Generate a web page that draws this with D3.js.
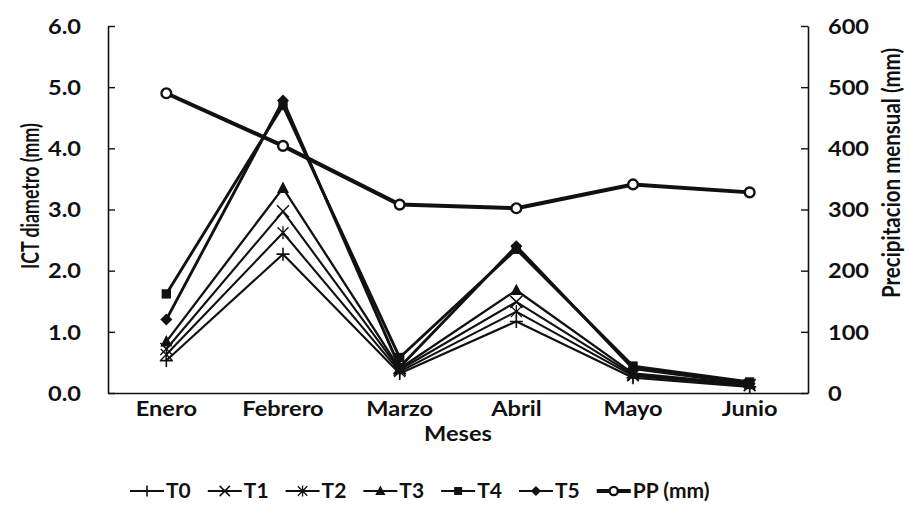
<!DOCTYPE html>
<html>
<head>
<meta charset="utf-8">
<script src="https://cdn.jsdelivr.net/npm/d3@7"></script>
<style>
  html, body { margin: 0; padding: 0; background: #fff; }
  svg text { font-family: Lato, "Open Sans", sans-serif; font-weight: 700; fill: #111; }
</style>
</head>
<body>
<svg id="chart" width="910" height="512"></svg>
<script>
// Months on the x axis
const months = ["Enero", "Febrero", "Marzo", "Abril", "Mayo", "Junio"];

// ICT diameter (mm) per treatment
const t0 = [0.53, 2.27, 0.32, 1.17, 0.25, 0.10];
const t1 = [0.72, 2.97, 0.38, 1.49, 0.30, 0.13];
const t2 = [0.63, 2.62, 0.35, 1.33, 0.28, 0.12];
const t3 = [0.84, 3.35, 0.40, 1.68, 0.32, 0.14];
const t4 = [1.62, 4.70, 0.58, 2.35, 0.44, 0.18];
const t5 = [1.20, 4.78, 0.42, 2.40, 0.40, 0.15];

// Monthly precipitation (mm), secondary axis
const pp = [490, 404, 308, 302, 341, 328];

// Axis ticks
const leftTicks = [0, 1, 2, 3, 4, 5, 6];
const rightTicks = [0, 100, 200, 300, 400, 500, 600];

const svg = d3.select("#chart");
const plot = { left: 108, right: 808, top: 26, bottom: 393 };
const ink = "#111";

const x = d3.scaleBand().domain(months).range([plot.left, plot.right]).padding(0);
const cx = d => x(d) + x.bandwidth() / 2;
const yL = d3.scaleLinear().domain([0, 6]).range([plot.bottom, plot.top]);
const yR = d3.scaleLinear().domain([0, 600]).range([plot.bottom, plot.top]);

const sx = 1.18; // horizontal text widening

// Left axis (ticks inside the plot)
const gL = svg.append("g").attr("transform", `translate(${plot.left},0)`)
  .call(d3.axisLeft(yL).tickValues(leftTicks).tickFormat(d3.format(".1f")).tickSizeInner(-7).tickSizeOuter(0).tickPadding(0));
gL.select(".domain").attr("stroke", ink).attr("stroke-width", 1.6);
gL.selectAll(".tick line").attr("stroke", ink).attr("stroke-width", 1.4);
gL.selectAll(".tick text").attr("x", -27 / sx).attr("dy", "0.36em")
  .attr("transform", `scale(${sx},1)`).style("font-size", "20px").attr("fill", ink);

// Right axis (ticks inside the plot)
const gR = svg.append("g").attr("transform", `translate(${plot.right},0)`)
  .call(d3.axisRight(yR).tickValues(rightTicks).tickFormat(d3.format("d")).tickSizeInner(-7).tickSizeOuter(0).tickPadding(0));
gR.select(".domain").attr("stroke", ink).attr("stroke-width", 1.6);
gR.selectAll(".tick line").attr("stroke", ink).attr("stroke-width", 1.4);
gR.selectAll(".tick text").attr("x", 20 / sx).attr("dy", "0.36em")
  .attr("transform", `scale(${sx},1)`).style("font-size", "20px").attr("fill", ink);

// Bottom axis: baseline and month labels
const gB = svg.append("g").attr("transform", `translate(0,${plot.bottom})`)
  .call(d3.axisBottom(x).tickSize(0).tickPadding(0));
gB.select(".domain").attr("stroke", ink).attr("stroke-width", 1.6);
gB.selectAll(".tick text")
  .attr("y", 0).attr("dy", 0).attr("transform", `translate(0,23) scale(${sx},1)`)
  .style("font-size", "20px").attr("fill", ink);

// Axis titles (condensed along the reading direction)
svg.append("text").attr("transform", `translate(${plot.left + (plot.right - plot.left) / 2},441) scale(${sx},1)`)
  .attr("text-anchor", "middle").style("font-size", "20px").text("Meses");
svg.append("text").attr("transform", "translate(39,196) rotate(-90) scale(0.71,1)")
  .attr("text-anchor", "middle").style("font-size", "25px").text("ICT diametro (mm)");
svg.append("text").attr("transform", "translate(900,173) rotate(-90) scale(0.82,1)")
  .attr("text-anchor", "middle").style("font-size", "25px").text("Precipitacion mensual (mm)");

// Marker shapes
function drawMarker(g, type, size) {
  const s = size / 2;
  if (type === "plus") {
    g.append("path").attr("d", `M${-s},0H${s}M0,${-s}V${s}`).attr("stroke", ink).attr("stroke-width", 1.6).attr("fill", "none");
  } else if (type === "cross") {
    g.append("path").attr("d", `M${-s},${-s}L${s},${s}M${-s},${s}L${s},${-s}`).attr("stroke", ink).attr("stroke-width", 1.5).attr("fill", "none");
  } else if (type === "star") {
    g.append("path").attr("d", `M${-s},${-s}L${s},${s}M${-s},${s}L${s},${-s}M0,${-s * 1.2}V${s * 1.2}`).attr("stroke", ink).attr("stroke-width", 1.3).attr("fill", "none");
  } else if (type === "triangle") {
    g.append("path").attr("d", `M0,${-s * 1.1}L${s},${s * 0.8}L${-s},${s * 0.8}Z`).attr("fill", ink);
  } else if (type === "square") {
    g.append("rect").attr("x", -s * 0.85).attr("y", -s * 0.85).attr("width", s * 1.7).attr("height", s * 1.7).attr("fill", ink);
  } else if (type === "diamond") {
    g.append("path").attr("d", `M0,${-s}L${s},0L0,${s}L${-s},0Z`).attr("fill", ink);
  } else if (type === "circle") {
    g.append("circle").attr("r", s * 0.75).attr("fill", "#fff").attr("stroke", ink).attr("stroke-width", 2.4);
  }
}

const series = [
  { name: "T0", values: t0, scale: yL, marker: "plus", width: 2.1, size: 13 },
  { name: "T1", values: t1, scale: yL, marker: "cross", width: 2.1, size: 12 },
  { name: "T2", values: t2, scale: yL, marker: "star", width: 2.1, size: 11 },
  { name: "T3", values: t3, scale: yL, marker: "triangle", width: 2.3, size: 12 },
  { name: "T4", values: t4, scale: yL, marker: "square", width: 2.9, size: 11 },
  { name: "T5", values: t5, scale: yL, marker: "diamond", width: 2.9, size: 12 },
  { name: "PP (mm)", values: pp, scale: yR, marker: "circle", width: 4, size: 13 }
];

const plotG = svg.append("g");
series.forEach(s => {
  const line = d3.line().x((d, i) => cx(months[i])).y(d => s.scale(d));
  plotG.append("path").datum(s.values).attr("d", line)
    .attr("fill", "none").attr("stroke", ink).attr("stroke-width", s.width)
    .attr("stroke-linejoin", "round");
  s.values.forEach((v, i) => {
    const g = plotG.append("g").attr("transform", `translate(${cx(months[i])},${s.scale(v)})`);
    drawMarker(g, s.marker, s.size);
  });
});

// Legend
const legend = svg.append("g").attr("transform", "translate(130,491)");
let lx = 0;
series.forEach(s => {
  const item = legend.append("g").attr("transform", `translate(${lx},0)`);
  item.append("line").attr("x1", 0).attr("x2", 34).attr("y1", 0).attr("y2", 0)
    .attr("stroke", ink).attr("stroke-width", s.name === "PP (mm)" ? 4 : 2);
  const m = item.append("g").attr("transform", "translate(17,0)");
  drawMarker(m, s.marker, s.size * 0.85);
  const t = item.append("text").attr("transform", "translate(36,7) scale(1.05,1)")
    .style("font-size", "20px").text(s.name);
  lx += 36 + t.node().getComputedTextLength() * 1.05 + 17;
});
</script>
</body>
</html>
